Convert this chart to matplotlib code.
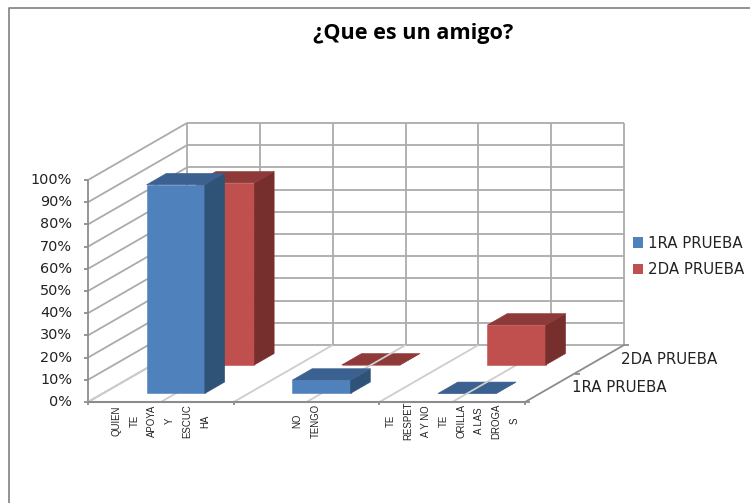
"""3D-look column chart: oblique projection of category / depth / value onto the page."""

import matplotlib
matplotlib.use("Agg")
import matplotlib.pyplot as plt
from matplotlib.patches import Patch, Polygon

CATEGORIES = ["QUIEN\nTE\nAPOYA\nY\nESCUC\nHA", "NO\nTENGO", "TE\nRESPET\nA Y NO\nTE\nORILLA\nA LAS\nDROGA\nS"]
SERIES = ["1RA PRUEBA", "2DA PRUEBA"]
PRUEBA_1 = [94, 6, 0]
PRUEBA_2 = [82, 0, 18]
Y_TICKS = [0, 10, 20, 30, 40, 50, 60, 70, 80, 90, 100]

X0, Y0 = 88, 402  # front left floor corner, pixels
CAT_W = 145.7
DEPTH_X, DEPTH_Y = 99, 57
PX_PER_PCT = 2.22
BAR_W = 0.4  # of a category
BAR_D = 0.2  # of the whole depth

FRONT = ("#4F81BD", "#2F5277", "#3A6190")
BACK = ("#C0504D", "#772F2D", "#8E3A38")
WALL = "#ABABAB"
FLOOR = "#CDCDCD"
AXIS = "#8C8C8C"
SANS = ["DejaVu Sans"]
NARROW = ["Liberation Sans Narrow", "Liberation Sans"]
LABEL_SIZE = 10.4
SERIES_SIZE = 10.8


def project(cat, depth, value=0):
    return (X0 + cat * CAT_W + depth * DEPTH_X, Y0 - depth * DEPTH_Y - value * PX_PER_PCT)


def line(ax, a, b, color, lw=1.3, z=1):
    ax.plot([a[0], b[0]], [a[1], b[1]], color=color, lw=lw, zorder=z, solid_capstyle="butt")


def draw_bar(ax, cat, depth, value, colors, z):
    l, r = cat + 0.5 - BAR_W / 2, cat + 0.5 + BAR_W / 2
    d0, d1 = depth - BAR_D / 2, depth + BAR_D / 2
    face = [project(l, d0), project(r, d0), project(r, d0, value), project(l, d0, value)]
    side = [project(r, d0), project(r, d1), project(r, d1, value), project(r, d0, value)]
    top = [project(l, d0, value), project(r, d0, value), project(r, d1, value), project(l, d1, value)]
    for pts, c in zip((face, side, top), colors):
        ax.add_patch(Polygon(pts, closed=True, facecolor=c, edgecolor=c, lw=0.4, zorder=z))


def main():
    fig = plt.figure(figsize=(7.5, 5.03), dpi=100)
    ax = fig.add_axes([0, 0, 1, 1])
    ax.set_xlim(0, 750)
    ax.set_ylim(503, 0)
    ax.axis("off")

    # outer frame, left and top only
    ax.plot([8.5, 8.5, 750], [503, 8, 8], color="#8A8A8A", lw=1.3)

    n = len(CATEGORIES)
    for v in Y_TICKS:
        line(ax, project(0, 0, v), project(0, 1, v), WALL)
        line(ax, project(0, 1, v), project(n, 1, v), WALL)
        line(ax, (X0 - 4, project(0, 0, v)[1]), project(0, 0, v), AXIS)
        ax.text(72, project(0, 0, v)[1], f"{v}%", ha="right", va="center",
                fontsize=LABEL_SIZE, color="#222222", family=SANS)
    top = Y_TICKS[-1]
    line(ax, project(0, 0), project(0, 0, top), AXIS)
    for i in range(2 * n + 1):
        line(ax, project(i / 2, 1), project(i / 2, 1, top), WALL)

    # flat bars lie under the floor lines
    for series, colors, depth in ((PRUEBA_2, BACK, 0.75), (PRUEBA_1, FRONT, 0.25)):
        for cat, value in enumerate(series):
            if value == 0:
                draw_bar(ax, cat, depth, value, colors, 2)

    for i in range(2 * n + 1):
        line(ax, project(i / 2, 0), project(i / 2, 1), AXIS if i == 2 * n else FLOOR, z=3)
    line(ax, project(0, 0), project(n, 0), AXIS, lw=1.5, z=3)
    for i in range(n + 1):
        a = project(i, 0)
        line(ax, a, (a[0], a[1] + 3), AXIS, z=3)
    for d in (0, 0.5, 1):
        a = project(n, d)
        line(ax, a, (a[0] + 5, a[1]), AXIS, z=3)

    z = 4
    for series, colors, depth in ((PRUEBA_2, BACK, 0.75), (PRUEBA_1, FRONT, 0.25)):
        for cat, value in enumerate(series):
            if value > 0:
                draw_bar(ax, cat, depth, value, colors, z)
                z += 1

    for cat, label in enumerate(CATEGORIES):
        x, _ = project(cat + 0.5, 0)
        ax.text(x, 421, label, rotation=90, ha="center", va="center", multialignment="center",
                fontsize=6.9, linespacing=1.96, color="#222222", family=NARROW)

    for name, depth in zip(SERIES, (0.25, 0.75)):
        x, y = project(n, depth)
        ax.text(x + 22, y, name, ha="left", va="center", fontsize=SERIES_SIZE, color="#222222", family=SANS)

    ax.text(413.5, 33.5, "¿Que es un amigo?", ha="center", va="center", fontsize=15.6,
            fontweight="bold", color="black", family=["Open Sans", "DejaVu Sans"])

    handles = [Patch(facecolor=FRONT[0]), Patch(facecolor=BACK[0])]
    ax.legend(handles, SERIES, loc="center left", bbox_to_anchor=(630, 256.5),
              bbox_transform=ax.transData, frameon=False, handlelength=0.68, handleheight=0.68,
              handletextpad=0.33, labelspacing=0.78, borderpad=0.2, borderaxespad=0,
              prop={"family": SANS, "size": SERIES_SIZE}, labelcolor="#222222")

    fig.savefig("out.png", dpi=100)


if __name__ == "__main__":
    main()
